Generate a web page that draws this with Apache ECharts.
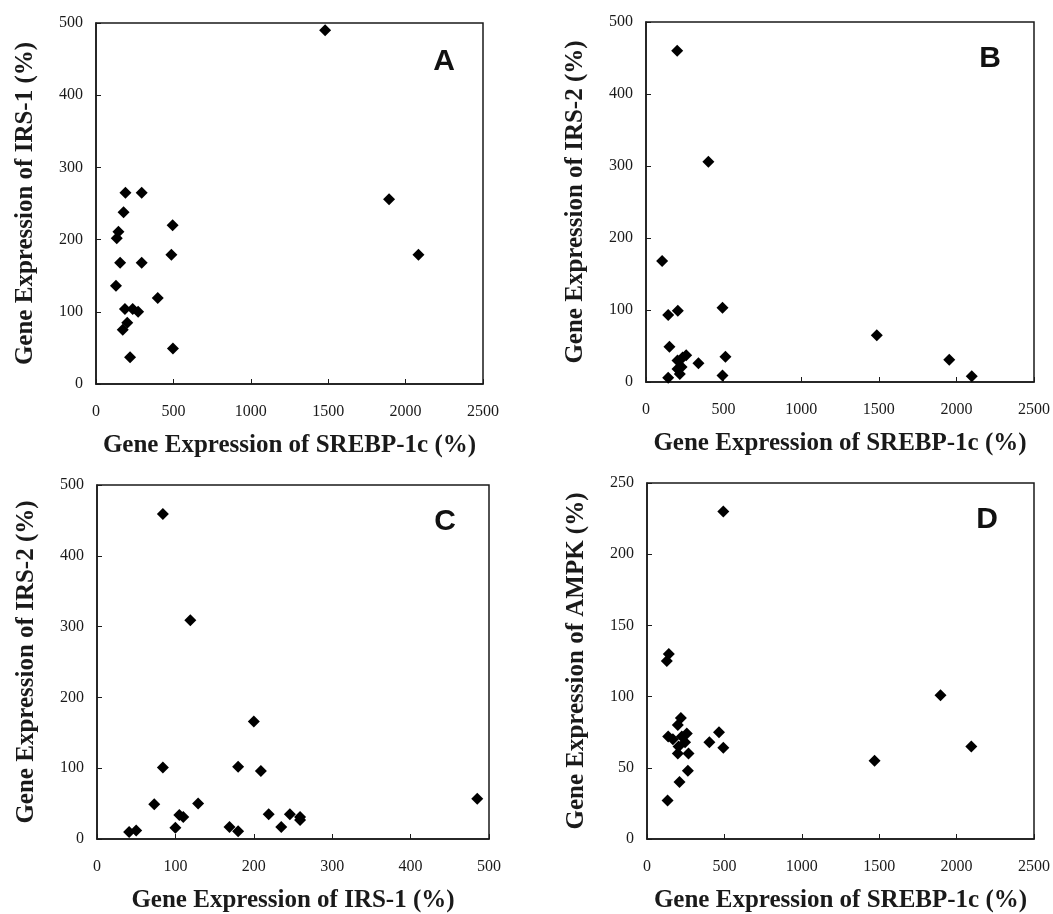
<!DOCTYPE html>
<html>
<head>
<meta charset="utf-8">
<script src="https://cdn.jsdelivr.net/npm/echarts@6/dist/echarts.min.js"></script>
<style>
  html, body { margin: 0; padding: 0; background: #fff; }
  #chart { width: 1053px; height: 914px; }
</style>
</head>
<body>
<div id="chart"></div>
<script>
// panel A: SREBP-1c vs IRS-1
var aSrebp = [1480, 190, 295, 178, 145, 134, 495, 1893, 487, 2083, 156, 295, 129, 399, 187, 237, 272, 202, 173, 497, 220];
var aIrs1  = [490, 265, 265, 238, 211, 202, 220, 256, 179, 179, 168, 168, 136, 119, 104, 104, 100, 85, 75, 49, 37];

// panel B: SREBP-1c vs IRS-2
var bSrebp = [201, 402, 104, 143, 205, 493, 1487, 151, 259, 236, 203, 229, 338, 512, 1954, 203, 218, 493, 2099, 143];
var bIrs2  = [460, 306, 168, 93, 99, 103, 65, 49, 37, 34, 30, 21, 26, 35, 31, 18, 11, 9, 8, 6];

// panel C: IRS-1 vs IRS-2
var cIrs1 = [84, 119, 200, 84, 180, 209, 485, 73, 129, 105, 110, 219, 246, 259, 259, 100, 169, 235, 41, 50, 180];
var cIrs2 = [459, 309, 166, 101, 102, 96, 57, 49, 50, 34, 31, 35, 35, 31, 27, 16, 17, 17, 10, 12, 11];

// panel D: SREBP-1c vs AMPK
var dSrebp = [493, 141, 128, 1896, 219, 199, 465, 137, 167, 257, 225, 246, 403, 204, 493, 2095, 199, 268, 1470, 264, 210, 133];
var dAmpk  = [230, 130, 125, 101, 85, 80, 75, 72, 70, 74, 72, 68, 68, 65, 64, 65, 60, 60, 55, 48, 40, 27];

var srebpTicks = [0, 2500, 500];
var irsTicks = [0, 500, 100];
var ampkTicks = [0, 250, 50];

function pairs(xs, ys) {
  return xs.map(function (x, i) { return [x, ys[i]]; });
}

var serif = '"Liberation Serif", "Times New Roman", serif';
var ink = '#1a1a1a';

var grids = [
  { left: 96, top: 23, width: 387, height: 361 },
  { left: 646, top: 22, width: 389, height: 360 },
  { left: 97, top: 485, width: 392, height: 361 },
  { left: 647, top: 483, width: 389, height: 360 }
];

function plain(v) { return String(v); }

function xAxisFor(i, ticks, name) {
  return {
    gridIndex: i, type: 'value', min: ticks[0], max: ticks[1], interval: ticks[2],
    name: name, nameLocation: 'middle', nameGap: 49,
    nameTextStyle: { fontFamily: serif, fontWeight: 'bold', fontSize: 25, color: ink },
    axisLine: { lineStyle: { color: ink, width: 1.5 } },
    axisTick: { inside: true, length: 5, lineStyle: { color: ink } },
    axisLabel: { fontFamily: serif, fontSize: 16, color: ink, margin: 20, formatter: plain },
    splitLine: { show: false }
  };
}

function yAxisFor(i, ticks, name) {
  return {
    gridIndex: i, type: 'value', min: ticks[0], max: ticks[1], interval: ticks[2],
    name: name, nameLocation: 'middle', nameGap: 58, nameRotate: 90,
    nameTextStyle: { fontFamily: serif, fontWeight: 'bold', fontSize: 25, color: ink },
    axisLine: { lineStyle: { color: ink, width: 1.5 } },
    axisTick: { inside: true, length: 5, lineStyle: { color: ink } },
    axisLabel: { fontFamily: serif, fontSize: 16, color: ink, margin: 13, formatter: plain },
    splitLine: { show: false }
  };
}

function scatter(i, data) {
  return {
    type: 'scatter', xAxisIndex: i, yAxisIndex: i, data: data,
    symbol: 'diamond', symbolSize: 12,
    itemStyle: { color: '#000', opacity: 1 }
  };
}

function letter(txt, x, y) {
  return {
    type: 'text', x: x, y: y,
    style: {
      text: txt, fill: '#111', align: 'center', verticalAlign: 'middle',
      font: 'bold 30px "Liberation Sans", Arial, sans-serif'
    }
  };
}

var chart = echarts.init(document.getElementById('chart'));
chart.setOption({
  animation: false,
  backgroundColor: '#fff',
  grid: grids.map(function (g) {
    return Object.assign({ show: true, borderColor: ink, borderWidth: 1.5, backgroundColor: 'transparent' }, g);
  }),
  xAxis: [
    xAxisFor(0, srebpTicks, 'Gene Expression of SREBP-1c (%)'),
    xAxisFor(1, srebpTicks, 'Gene Expression of SREBP-1c (%)'),
    xAxisFor(2, irsTicks, 'Gene Expression of IRS-1 (%)'),
    xAxisFor(3, srebpTicks, 'Gene Expression of SREBP-1c (%)')
  ],
  yAxis: [
    yAxisFor(0, irsTicks, 'Gene Expression of IRS-1 (%)'),
    yAxisFor(1, irsTicks, 'Gene Expression of IRS-2 (%)'),
    yAxisFor(2, irsTicks, 'Gene Expression of IRS-2 (%)'),
    yAxisFor(3, ampkTicks, 'Gene Expression of AMPK (%)')
  ],
  series: [
    scatter(0, pairs(aSrebp, aIrs1)),
    scatter(1, pairs(bSrebp, bIrs2)),
    scatter(2, pairs(cIrs1, cIrs2)),
    scatter(3, pairs(dSrebp, dAmpk))
  ],
  graphic: [
    letter('A', 444, 62),
    letter('B', 990, 59),
    letter('C', 445, 522),
    letter('D', 987, 520)
  ]
});
</script>
</body>
</html>
